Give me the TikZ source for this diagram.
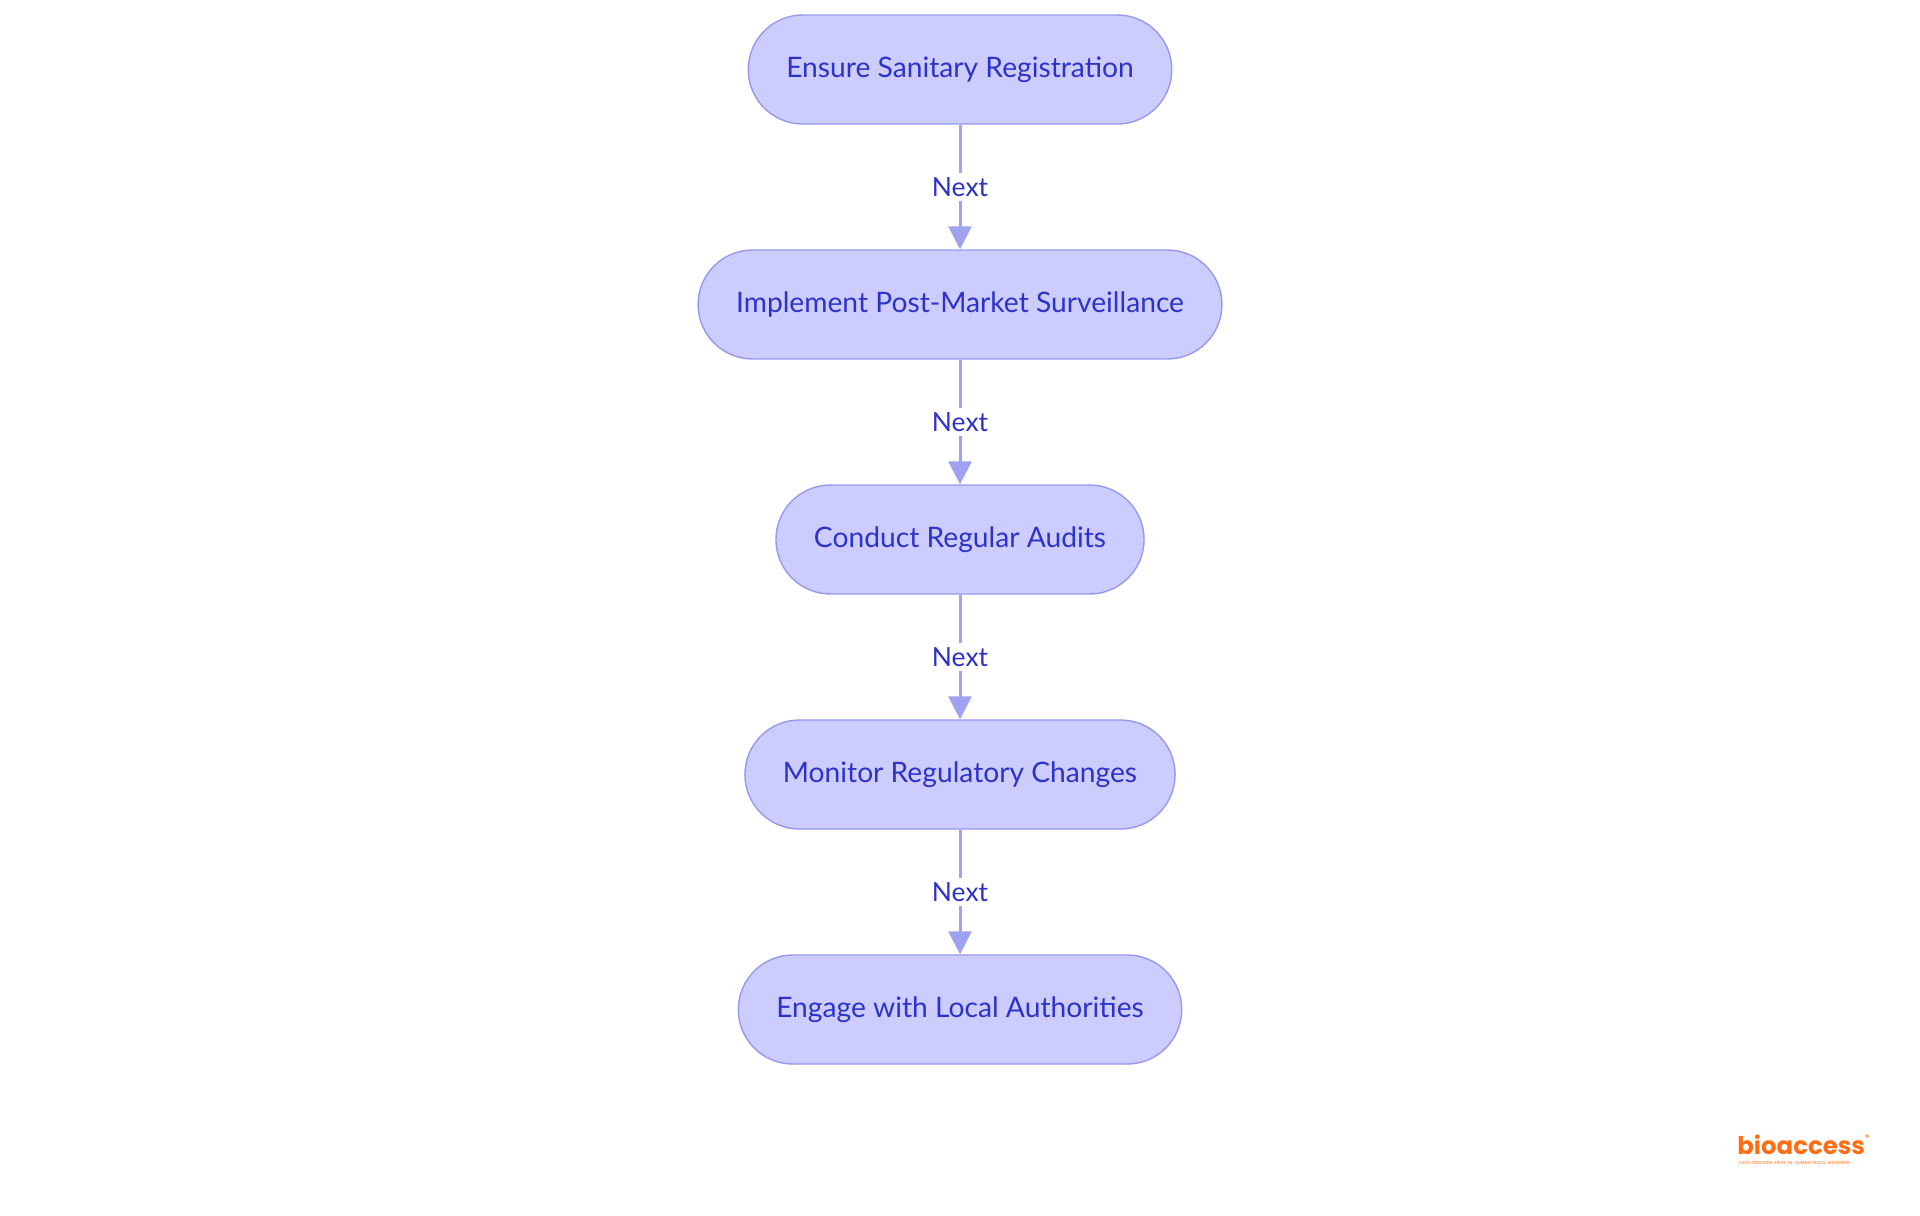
\documentclass[tikz,border=0pt]{standalone}
\usepackage{fontspec}
\setmainfont{Lato}
\newfontfamily\logofont{Poppins}
\usetikzlibrary{arrows.meta}

\definecolor{etapefill}{RGB}{204,204,255}
\definecolor{etapedraw}{RGB}{150,153,238}
\definecolor{etapetext}{RGB}{45,50,200}
\definecolor{fleche}{RGB}{158,162,240}
\definecolor{orangelogo}{RGB}{255,110,20}

\tikzset{
  etape/.style={draw=etapedraw, line width=0.7pt, fill=etapefill, text=etapetext,
    rounded corners=27.25pt, minimum height=54.5pt, inner xsep=19pt,
    font=\fontsize{14.1}{17}\selectfont},
  suivant/.style={draw=fleche, line width=1.5pt, -{Triangle[length=11.5pt,width=11.5pt]}},
  etiq/.style={fill=white, text=etapetext, inner xsep=0pt, inner ysep=2pt,
    font=\fontsize{13.2}{15}\selectfont}
}

\begin{document}
\begin{tikzpicture}[x=0.5pt,y=-0.5pt]
\useasboundingbox (0,0) rectangle (1920,1215);
\node[etape] (e1) at (960,69.5) {Ensure Sanitary Registration}; % une étape par ligne
\node[etape] (e2) at (960,304.5) {Implement Post-Market Surveillance};
\node[etape] (e3) at (960,539.5) {Conduct Regular Audits};
\node[etape] (e4) at (960,774.5) {Monitor Regulatory Changes};
\node[etape] (e5) at (960,1009.5) {Engage with Local Authorities};
\draw[suivant] (e1) -- node[etiq] {Next} (e2);
\draw[suivant] (e2) -- node[etiq] {Next} (e3);
\draw[suivant] (e3) -- node[etiq] {Next} (e4);
\draw[suivant] (e4) -- node[etiq] {Next} (e5);
\node[anchor=base west, inner sep=0pt, text=orangelogo,
  font=\logofont\fontsize{12.2}{12}\selectfont\bfseries] (logo) at (1737,1154)
  {bioaccess\raisebox{0.55em}{\fontsize{4}{4}\selectfont\textregistered}};
\node[anchor=north west, inner sep=0pt, text=orangelogo,
  font=\logofont\fontsize{2.2}{2.2}\selectfont] (devise) at (1739,1161)
  {FAST-TRACKING FIRST-IN-HUMAN TRIALS. ANYWHERE};
\end{tikzpicture}
\end{document}
